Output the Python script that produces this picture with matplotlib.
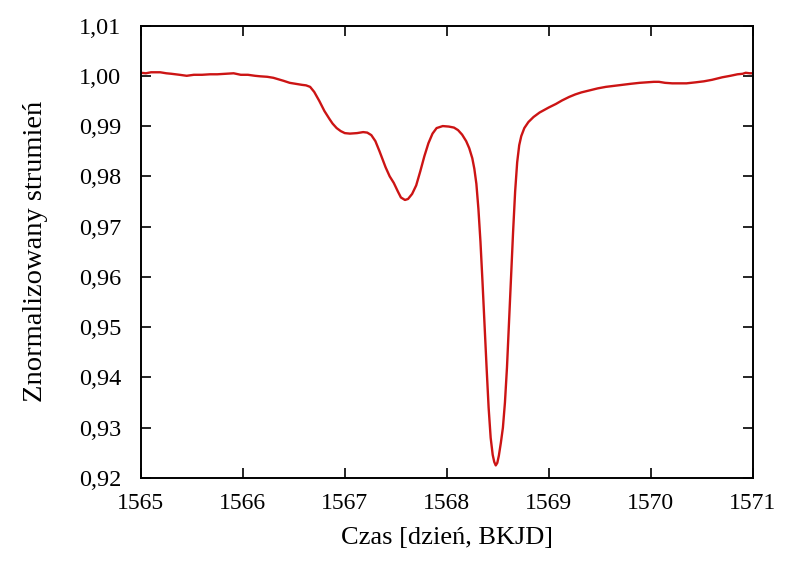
import matplotlib
matplotlib.use("Agg")
import matplotlib.pyplot as plt
from matplotlib.ticker import FuncFormatter, MultipleLocator

time = [1565.00, 1565.05, 1565.10, 1565.19, 1565.25, 1565.30, 1565.38, 1565.45, 1565.52, 1565.60,
        1565.68, 1565.75, 1565.83, 1565.91, 1565.98, 1566.05, 1566.12, 1566.17, 1566.24, 1566.30,
        1566.40, 1566.46, 1566.52, 1566.58, 1566.62, 1566.66, 1566.70, 1566.75, 1566.80, 1566.85,
        1566.88, 1566.92, 1566.96, 1567.00, 1567.05, 1567.12, 1567.18, 1567.22, 1567.26, 1567.30,
        1567.34, 1567.40, 1567.44, 1567.48, 1567.52, 1567.55, 1567.59, 1567.62, 1567.66, 1567.70,
        1567.74, 1567.78, 1567.82, 1567.86, 1567.90, 1567.96, 1568.02, 1568.07, 1568.11, 1568.15,
        1568.19, 1568.22, 1568.25, 1568.27, 1568.29, 1568.31, 1568.33, 1568.35, 1568.37, 1568.39,
        1568.41, 1568.43, 1568.45, 1568.465, 1568.48, 1568.495, 1568.51, 1568.53, 1568.55, 1568.57,
        1568.59, 1568.61, 1568.63, 1568.65, 1568.67, 1568.69, 1568.71, 1568.73, 1568.76, 1568.80,
        1568.85, 1568.91, 1569.00, 1569.07, 1569.13, 1569.20, 1569.26, 1569.32, 1569.40, 1569.48,
        1569.56, 1569.64, 1569.72, 1569.80, 1569.89, 1569.96, 1570.03, 1570.08, 1570.14, 1570.21,
        1570.28, 1570.35, 1570.44, 1570.52, 1570.60, 1570.70, 1570.78, 1570.85, 1570.90, 1570.93,
        1570.97, 1571.00]
flux = [1.0006, 1.0005, 1.0007, 1.0007, 1.0005, 1.0004, 1.0002, 1.0000, 1.0002, 1.0002,
        1.0003, 1.0003, 1.0004, 1.0005, 1.0002, 1.0002, 1.0000, 0.9999, 0.9998, 0.9996,
        0.9990, 0.9986, 0.9984, 0.9982, 0.9981, 0.9978, 0.9968, 0.9950, 0.9930, 0.9914,
        0.9905, 0.9896, 0.9890, 0.9886, 0.9885, 0.9886, 0.9888, 0.9887, 0.9882, 0.9870,
        0.9850, 0.9818, 0.9800, 0.9787, 0.9770, 0.9758, 0.9753, 0.9755, 0.9765, 0.9782,
        0.9810, 0.9840, 0.9866, 0.9885, 0.9896, 0.9900, 0.9899, 0.9897, 0.9892, 0.9883,
        0.9870, 0.9856, 0.9836, 0.9815, 0.9785, 0.9735, 0.9670, 0.9590, 0.9505, 0.9420,
        0.9340, 0.9280, 0.9246, 0.9232, 0.9225, 0.9230, 0.9244, 0.9270, 0.9300, 0.9350,
        0.9420, 0.9510, 0.9600, 0.9690, 0.9770, 0.9828, 0.9862, 0.9880, 0.9896, 0.9908,
        0.9918, 0.9927, 0.9937, 0.9944, 0.9951, 0.9958, 0.9963, 0.9967, 0.9971, 0.9975,
        0.9978, 0.9980, 0.9982, 0.9984, 0.9986, 0.9987, 0.9988, 0.9988, 0.9986, 0.9985,
        0.9985, 0.9985, 0.9987, 0.9989, 0.9992, 0.9997, 1.0000, 1.0003, 1.0004, 1.0006,
        1.0005, 1.0005]

xticks = [1565, 1566, 1567, 1568, 1569, 1570, 1571]
xlabel = "Czas [dzień, BKJD]"
ylabel = "Znormalizowany strumień"

plt.rcParams['font.family'] = ['Liberation Serif', 'DejaVu Serif']
fig = plt.figure(figsize=(8.0, 5.61), dpi=100)
ax = fig.add_axes([0.176, 0.148, 0.765, 0.8065])
ax.plot(time, flux, color='#cc1414', lw=1.7)
ax.set_xlim(1565, 1571)
ax.set_ylim(0.92, 1.01)
ax.set_xticks(xticks)
ax.yaxis.set_major_locator(MultipleLocator(0.01))
ax.yaxis.set_major_formatter(FuncFormatter(lambda v, p: f"{v:.2f}".replace('.', ',')))
ax.tick_params(direction='in', top=True, right=True, length=7, width=1.2)
ax.tick_params(axis='x', pad=11, labelsize=17)
ax.tick_params(axis='y', pad=14, labelsize=17.5)
for s in ax.spines.values():
    s.set_linewidth(1.4)
ax.set_xlabel(xlabel, fontsize=19, labelpad=9)
ax.set_ylabel(ylabel, fontsize=20.5, labelpad=22)
fig.savefig("out.png", dpi=100)
